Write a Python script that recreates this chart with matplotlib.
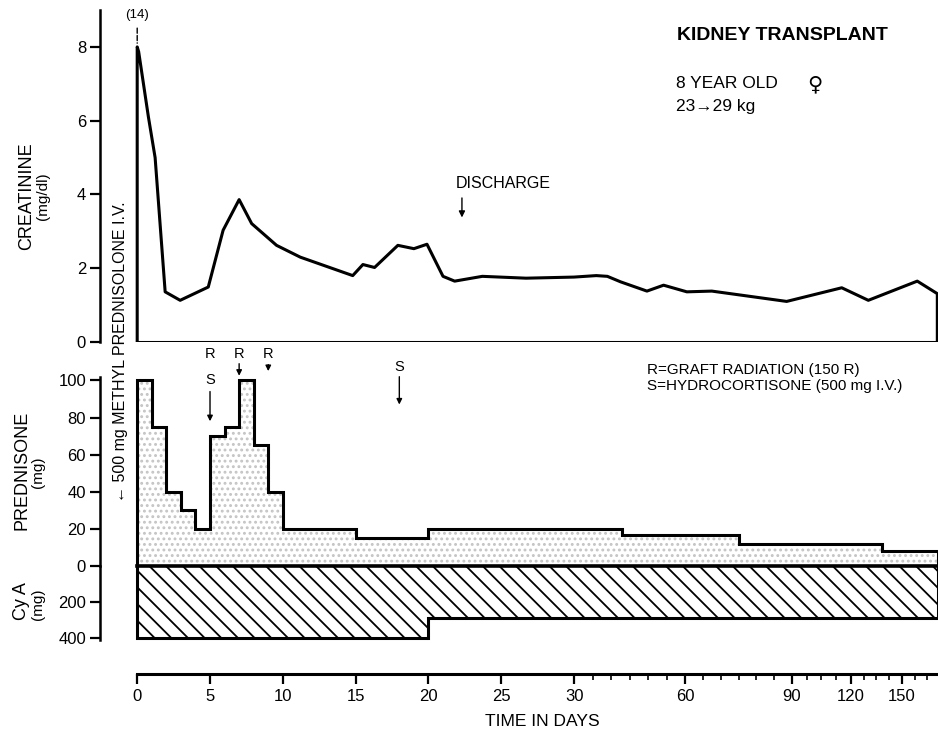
import numpy as np
import matplotlib
matplotlib.use("Agg")
import matplotlib.pyplot as plt

plt.rcParams['font.family'] = ['Liberation Sans', 'DejaVu Sans']
plt.rcParams['hatch.linewidth'] = 1.3

# ---- data ----
creat_days = [0, 0.1, 0.77, 1.23, 1.92, 2.95, 4.88, 5.9, 7.0, 7.86,
              9.57, 11.2, 14.8, 15.5, 16.3, 17.9, 19.0, 19.9, 21.0, 21.8,
              23.7, 26.7, 30, 36, 39, 42.6, 49.7, 54.2, 60.5, 67.5,
              88.5, 115.3, 130.2, 159, 170.8]
creat_vals = [8.0, 7.87, 6.1, 5.0, 1.36, 1.13, 1.49, 3.03, 3.86, 3.21,
              2.62, 2.3, 1.8, 2.1, 2.02, 2.62, 2.53, 2.65, 1.78, 1.65,
              1.78, 1.73, 1.76, 1.8, 1.78, 1.63, 1.38, 1.54, 1.36, 1.38,
              1.1, 1.47, 1.13, 1.65, 1.31]

pred_edges = [0, 1, 2, 3, 4, 5, 6, 7, 8, 9, 10, 15, 20, 43, 75, 138, 171]
pred_vals = [100, 75, 40, 30, 20, 70, 75, 100, 65, 40, 20, 15, 20, 16.5, 12, 8]

cya_edges = [0, 20, 171]
cya_vals = [400, 290]

discharge_day = 22.3
x_ticks = [0, 5, 10, 15, 20, 25, 30, 60, 90, 120, 150]
x_minor = [35, 40, 45, 50, 55, 65, 70, 75, 80, 85, 97.5, 105, 112.5,
           127.5, 135, 142.5, 157.5, 165]

# broken time axis: linear to 30 days, compressed afterwards
day_anchor = np.array([-10, 0, 30, 60, 90, 120, 150, 200])
pos_anchor = np.array([-146.5, 0, 437, 548, 655, 714, 765, 850])


def fwd(d):
    return np.interp(d, day_anchor, pos_anchor)


def inv(p):
    return np.interp(p, pos_anchor, day_anchor)


W, H = 938, 735
fig = plt.figure(figsize=(W / 100, H / 100), dpi=100)


def px_axes(top, bottom, **kw):
    return fig.add_axes([100 / W, 1 - bottom / H, 838 / W, (bottom - top) / H], **kw)


ax1 = px_axes(10, 342)
ax2 = px_axes(376.7, 566, sharex=ax1)
ax3 = px_axes(566, 639.5, sharex=ax1)
ax1.set_xscale('function', functions=(fwd, inv))
ax1.set_xlim(-2.54, 171.2)

for ax in (ax1, ax2, ax3):
    ax.patch.set_visible(False)
    ax.spines['top'].set_visible(False)
    ax.spines['right'].set_visible(False)
    ax.spines['left'].set_linewidth(1.8)
    ax.tick_params(axis='y', direction='out', length=7, width=1.6,
                   labelsize=12, pad=3)
for ax in (ax1, ax2):
    ax.spines['bottom'].set_visible(False)
    ax.tick_params(axis='x', which='both', bottom=False, labelbottom=False)

# creatinine
ax1.set_ylim(0, 9.0)
ax1.set_yticks([0, 2, 4, 6, 8])
ax1.plot(np.r_[creat_days[0], creat_days, creat_days[-1]],
         np.r_[0, creat_vals, 0], color='k', lw=2.2, solid_joinstyle='round')
ax1.plot([creat_days[0], creat_days[-1]], [0, 0], color='k', lw=2.2)
ax1.annotate('(14)', xy=(creat_days[0], creat_vals[0] + 0.1), xytext=(0, 8.86),
             ha='center', va='center', fontsize=9.5, annotation_clip=False,
             arrowprops=dict(arrowstyle='-', linestyle='--', lw=1, color='k',
                             shrinkA=3, shrinkB=0))
ax1.text(discharge_day - 0.4, 4.3, 'DISCHARGE', ha='left', va='center', fontsize=11.5)
ax1.annotate('', xy=(discharge_day, 3.3), xytext=(discharge_day, 3.98),
             arrowprops=dict(arrowstyle='-|>', lw=1, color='k', mutation_scale=9))

# prednisone
ax2.set_ylim(0, 102)
ax2.set_yticks([20, 40, 60, 80, 100])
ax2.stairs(pred_vals, pred_edges, baseline=0, fill=True, facecolor='none',
           edgecolor='#c4c4c4', hatch='...', linewidth=0)
ax2.stairs(pred_vals, pred_edges, baseline=0, color='k', lw=2.2)

mk = dict(ha='center', va='center', fontsize=10.5, annotation_clip=False)
arr = dict(arrowstyle='-|>', lw=1, color='k', mutation_scale=8, shrinkA=0, shrinkB=0)
for d in [5, 7, 9]:
    ax2.annotate('R', xy=(d, 114.5), **mk)
ax2.annotate('S', xy=(5, 100), **mk)
ax2.annotate('', xy=(5, 78), xytext=(5, 94), arrowprops=arr, annotation_clip=False)
ax2.annotate('', xy=(7, 102.5), xytext=(7, 109), arrowprops=arr, annotation_clip=False)
ax2.annotate('', xy=(9, 105), xytext=(9, 108.5), arrowprops=arr, annotation_clip=False)
ax2.annotate('S', xy=(18, 107), **mk)
ax2.annotate('', xy=(18, 87), xytext=(18, 102), arrowprops=arr, annotation_clip=False)

# cyclosporin A
ax3.set_ylim(410, 0)
ax3.set_yticks([0, 200, 400])
ax3.stairs(cya_vals, cya_edges, baseline=0, fill=True, facecolor='white',
           edgecolor='k', hatch='\\\\', linewidth=2.2, clip_on=False)
ax3.plot([cya_edges[0], cya_edges[-1]], [0, 0], color='k', lw=2.6, clip_on=False)
ax3.spines['bottom'].set_position(('outward', 24.5))
ax3.spines['bottom'].set_linewidth(2.2)
ax3.spines['bottom'].set_bounds(0, 171.2)
ax3.set_xticks(x_ticks)
ax3.set_xticklabels([str(t) for t in x_ticks])
ax3.set_xticks(x_minor, minor=True)
ax3.tick_params(axis='x', which='major', direction='out', length=7, width=1.6,
                labelsize=12, pad=4)
ax3.tick_params(axis='x', which='minor', direction='out', length=4, width=1.2)


def ftxt(x, y, s, **kw):
    fig.text(x / W, 1 - y / H, s, **kw)


vert = dict(rotation=90, ha='center', va='center')
ftxt(27, 196, 'CREATININE', fontsize=13, **vert)
ftxt(43, 196, '(mg/dl)', fontsize=11, **vert)
ftxt(22, 470, 'PREDNISONE', fontsize=13, **vert)
ftxt(38, 472, '(mg)', fontsize=11, **vert)
ftxt(22, 601, 'Cy A', fontsize=13, **vert)
ftxt(38, 604, '(mg)', fontsize=11, **vert)
ftxt(121, 352, '\u2190 500 mg METHYL PREDNISOLONE I.V.', fontsize=11.5, **vert)
ftxt(542, 721, 'TIME IN DAYS', fontsize=12.5, ha='center', va='center')

ftxt(677, 36, 'KIDNEY TRANSPLANT', fontsize=14, fontweight='bold', va='center')
ftxt(676, 83, '8 YEAR OLD', fontsize=12.5, va='center')
ftxt(815, 84, '\u2640', fontsize=15, ha='center', va='center', family='DejaVu Sans')
ftxt(676, 107, '23\u219229 kg', fontsize=12.5, va='center')
ftxt(647, 370, 'R=GRAFT RADIATION (150 R)', fontsize=11, va='center')
ftxt(647, 386, 'S=HYDROCORTISONE (500 mg I.V.)', fontsize=11, va='center')

fig.savefig('out.png', dpi=100)
